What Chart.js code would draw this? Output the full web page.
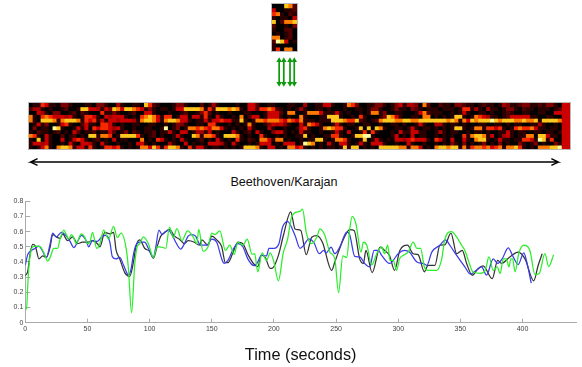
<!DOCTYPE html>
<html><head><meta charset="utf-8">
<style>
html,body{margin:0;padding:0;background:#fff;width:582px;height:367px;overflow:hidden}
.box{position:absolute}
.box canvas{display:block}
.heat{background:#000;outline:1px solid #b8b8b8}
.heat canvas{filter:blur(.6px)}
.soft{filter:blur(.45px)}
#label{position:absolute;left:184px;width:200px;top:175px;text-align:center;font:12.6px/14px "Liberation Sans",Arial,sans-serif;color:#111}
</style>
<script src="https://cdn.jsdelivr.net/npm/chart.js@4"></script>
</head><body>
<div class="box heat" style="left:272px;top:4px;width:25px;height:47px;overflow:hidden"><canvas id="small"></canvas></div>
<div class="box heat" style="left:29px;top:103px;width:541px;height:46px;overflow:hidden"><canvas id="big"></canvas></div>
<div id="label">Beethoven/Karajan</div>
<div class="box soft" style="left:0;top:190px;width:582px;height:177px"><canvas id="lines"></canvas></div>
<div class="box" style="left:0;top:0;width:582px;height:190px;pointer-events:none"><canvas id="arrows"></canvas></div>
<script>
// intensity levels 0..9 (hot colour map)
const levelColors=["#000000","#2a0000","#520000","#7e0000","#a80000","#cc0000","#f52a00","#ff7a00","#ffc81e","#ffffa0"];

const smallRows=["000872","500112","671021","101105","802778","200103","100220","010120","770120","298501","100000","160770"];

const bigRows=[
"0116511033100011033100410011086210"+"0013310002014100001005520011000110"+"0400115510017630011331013514430720"+"0211033211012110143112331121331055",
"2441010012001885541538758876513101"+"1015588887162888787105526676210101"+"4100110100010011013310013110321011"+"1011101661410411013310211011101255",
"0054103300120210006113100120055100"+"0100120013620100100011000155520770"+"0177751115101001017713001100015721"+"1100101510011010012100110011005555",
"7106765554510166510545551010678751"+"6601550551610510010702550155510100"+"7100011888100106100013875100110770"+"1010188101765411012555551100110055",
"7108887178887165615155455541788751"+"7887551011515565511810177677765765"+"7111011188876682101278887788778888"+"8887871758788898788877877818888755",
"0151300156100251106651010011001100"+"1013310011066100101017100135453100"+"5176510015101100110010011010015100"+"4410110100011001101011001141001055",
"0301109810015150656654510010011001"+"9013017767657751010105100041001001"+"5610017876610018080871001101510110"+"1010188101771665610167667511011055",
"1021101201052011201152013021011201"+"1510550144150100051012051003551010"+"5110010015105001606100010511551100"+"1410110010110100115101100110110155",
"7610510020120108817760188886101201"+"0015100871776108887101006100101001"+"1801001166100188991000015010501100"+"1010100617887150145101177088511055",
"1080510050156510120105011000701065"+"1010510012010510106102107751770100"+"1011881017761001801510105545655510"+"6510500510788101511011665198160055",
"1554510010510554105100100105510100"+"0410050101055541051001015550105550"+"1987010510551015105551001005100100"+"1010310301013010301003101301003155",
"1015710788715516101665610101775861"+"6887106155101101010188871055010775"+"6101010110181880101088888771775010"+"7887881716776756717786101077788955"
];

const greenX=[0,1,2,3,4.5,6,9,12,15,18,20,23,26,28,31,33,35,37,39,41,45,48,50,52,54,57.5,60,63,67,71,74,77,81.5,83,85.5,88,90,92,95,99,103,106,108,113,116,119,122,126,130.5,135,138,139.5,143,147,150,152.5,156.5,161,164.5,168,171,175,178.5,182.5,184.5,187,190.5,194,197,200,203.6,207.5,211,214,217,221,223,226,230,234.5,237,241,245,249,252,255.4,258.6,261,263,266,270,272,274.7,278.7,282.7,286.7,289,291.5,293.4,296,298.7,301,304,308,312,315,318,321,324,331,335,337.5,343,347,351,353.6,356,360,366,370,373,376.4,379.6,382,384.5,387,389,390.6,392,394,397,401,405.9,410,413.4,418,421,425];
const greenY=[.10,.09,.25,.38,.47,.50,.505,.50,.46,.405,.43,.49,.49,.55,.61,.58,.55,.58,.56,.52,.585,.56,.52,.53,.595,.49,.52,.61,.55,.635,.56,.59,.47,.35,.065,.38,.50,.52,.565,.52,.43,.50,.50,.49,.63,.56,.62,.54,.605,.565,.52,.615,.47,.50,.59,.58,.605,.475,.51,.45,.53,.51,.55,.45,.455,.335,.46,.41,.46,.40,.276,.46,.55,.69,.725,.733,.748,.595,.52,.563,.617,.574,.465,.42,.198,.44,.43,.617,.70,.65,.465,.53,.51,.38,.454,.50,.454,.51,.41,.41,.345,.42,.443,.465,.53,.49,.49,.367,.345,.345,.42,.55,.60,.563,.51,.476,.42,.335,.324,.345,.433,.345,.367,.324,.42,.42,.367,.42,.42,.335,.457,.51,.476,.317,.324,.454,.37,.448];

const blueX=[0,2,4,8,11,14,17,20,22,25,29,32,36,39,43,45,49,51,54,58,62,65,68,70,73,76,79,83,85,87,89,92,96,99,103,105,107.5,110,113,115,118,121,125,128,131,134,137,141,146,150,154,158,160,163,167,171,175,179,184,187,190,194,196,200,204,207,211,217,221,224,228,232,236.5,240,242,246,249,253,258.6,261,265,269,273,277,280.6,284,286.7,293,300,305,309,315,320,323,327,333.5,338,341.5,347,353.6,358,363,367,371,376.4,380,383.6,388.5,392.5,396.5,401,404,407];
const blueY=[.38,.45,.47,.49,.505,.47,.43,.52,.59,.565,.595,.58,.535,.495,.55,.575,.54,.50,.54,.535,.57,.575,.53,.435,.42,.43,.38,.315,.35,.45,.51,.53,.53,.49,.43,.50,.61,.58,.60,.61,.58,.53,.485,.52,.57,.58,.57,.51,.51,.55,.53,.42,.39,.41,.48,.52,.50,.42,.375,.40,.445,.44,.49,.49,.52,.63,.665,.574,.49,.51,.552,.53,.454,.476,.46,.498,.454,.498,.596,.578,.437,.433,.39,.367,.476,.476,.443,.39,.454,.476,.465,.40,.39,.378,.465,.51,.546,.51,.443,.367,.32,.345,.367,.313,.42,.39,.42,.493,.433,.383,.46,.378,.26];

const blackX=[0,2,4,6,8,11,14,17,20,22,25,28,30,34,38,42,46,50,54,58,60,64,68,71,73,76,80,84,87,89,92,96,100,103,106,109,113,116,120,124,128,131,136,140,142,147,150,154,158,161,163,167,171,175,179,184,187,190,193,197,199,203.6,207.6,213.5,217,221.6,226,230.4,234.5,239,246.5,249,256,261,264.5,269,272,274,279,285.4,289,293,297,301.3,307.5,312,316,321,324,329.5,333.5,337.5,342.4,347,351.5,355,359.5,364.3,368.3,375.6,380,383,389.8,396.5,402,409,412.6,415.8];
const blackY=[.31,.34,.46,.515,.505,.42,.44,.43,.50,.58,.565,.555,.585,.54,.565,.52,.53,.53,.54,.52,.50,.595,.585,.595,.48,.42,.33,.305,.40,.50,.545,.49,.47,.425,.50,.57,.60,.615,.57,.55,.52,.54,.53,.51,.545,.51,.57,.545,.50,.395,.395,.46,.53,.52,.45,.385,.37,.445,.43,.357,.36,.443,.574,.73,.617,.607,.448,.563,.574,.53,.345,.40,.552,.613,.607,.42,.39,.476,.33,.498,.476,.443,.345,.476,.51,.454,.448,.335,.378,.378,.51,.513,.59,.454,.476,.39,.313,.357,.374,.29,.41,.39,.433,.465,.42,.276,.378,.454];

const xTickStep=50, yTickStep=.1;
// overlay annotation arrows, in page pixels
const spanArrowX=[34,27,562,555], spanArrowY=[161.5,165,165,161.5];
const spanHeadLowX=[34,27,null,562,555], spanHeadLowY=[168.5,165,null,165,168.5];
const syncArrowX=[279,283.7,290,294.3], syncArrowTop=59, syncArrowBottom=83;

function heatChart(id,rows,w,h){
  const cols=rows[0].length;
  const labels=Array.from({length:cols},(_,i)=>i);
  const canvas=document.getElementById(id);
  canvas.style.width=w+'px';canvas.style.height=h+'px';
  new Chart(canvas,{type:'bar',
    data:{labels,datasets:rows.map(r=>({
      data:labels.map(()=>1),
      backgroundColor:[...r].map(c=>levelColors[+c]),
      borderWidth:0,barPercentage:1,categoryPercentage:1,stack:'s'}))},
    options:{responsive:false,animation:false,layout:{padding:0},
      plugins:{legend:{display:false},tooltip:{enabled:false}},
      scales:{x:{display:false,stacked:true,offset:true},
              y:{display:false,stacked:true,reverse:true,min:0,max:rows.length}}}});
}
function setSize(c,w,h){c.width=w;c.height=h;}
for(const [id,w,h] of [["small",25,47],["big",541,46],["lines",582,177],["arrows",582,190]]){setSize(document.getElementById(id),w,h);}
heatChart('small',smallRows,25,47);
heatChart('big',bigRows,541,46);

const zip=(xs,ys)=>xs.map((x,i)=>({x,y:ys[i]}));
const lineDs=(xs,ys,color)=>({data:zip(xs,ys),borderColor:color,borderWidth:1.25,pointRadius:0,cubicInterpolationMode:'monotone',fill:false});
const tickFont={family:'"Liberation Sans",Arial,sans-serif',size:7};
new Chart(document.getElementById('lines'),{type:'line',
  data:{datasets:[lineDs(greenX,greenY,'#2bee2b'),lineDs(blueX,blueY,'#3a3ae8'),lineDs(blackX,blackY,'#333333')]},
  options:{responsive:false,animation:false,parsing:false,
    layout:{padding:{top:10,right:6,left:0,bottom:0}},
    plugins:{legend:{display:false},tooltip:{enabled:false}},
    scales:{
      x:{type:'linear',min:0,max:443,
        afterFit(s){s.height=44.3;},
        border:{color:'#aaaaaa',width:1},
        grid:{drawOnChartArea:false,tickLength:-4,color:'#aaaaaa'},
        ticks:{stepSize:xTickStep,includeBounds:false,maxRotation:0,padding:6,color:'#444',font:tickFont,callback:v=>String(v)},
        title:{display:true,text:'Time (seconds)',color:'#111',padding:{top:0,bottom:2},font:{family:'"Liberation Sans",Arial,sans-serif',size:16.3}}},
      y:{min:0,max:.8,
        afterFit(s){s.width=25.3;},
        border:{color:'#aaaaaa',width:1},
        grid:{drawOnChartArea:false,tickLength:-5,color:'#aaaaaa'},
        ticks:{stepSize:yTickStep,padding:7,color:'#444',font:tickFont,callback:v=>String(+v.toFixed(1))}}
    }}});

const arrowData=[];
arrowData.push({data:zip(spanArrowX,spanArrowY),borderColor:'#000',borderWidth:1.4,pointRadius:0,showLine:true});
arrowData.push({data:zip(spanHeadLowX,spanHeadLowY),borderColor:'#000',borderWidth:1.4,pointRadius:0,showLine:true,spanGaps:false});
for(const x of syncArrowX){
  arrowData.push({data:[{x,y:syncArrowTop},{x,y:syncArrowBottom}],borderColor:'#0a9a0a',backgroundColor:'#0a9a0a',borderWidth:1.7,showLine:true,
    pointStyle:'triangle',pointRadius:3.2,pointBorderWidth:0,pointRotation:[0,180]});
}
new Chart(document.getElementById('arrows'),{type:'scatter',
  data:{datasets:arrowData},
  options:{responsive:false,animation:false,layout:{padding:0},
    plugins:{legend:{display:false},tooltip:{enabled:false}},
    scales:{x:{display:false,type:'linear',min:0,max:582},y:{display:false,min:0,max:190,reverse:true}}}});
</script>
</body></html>
